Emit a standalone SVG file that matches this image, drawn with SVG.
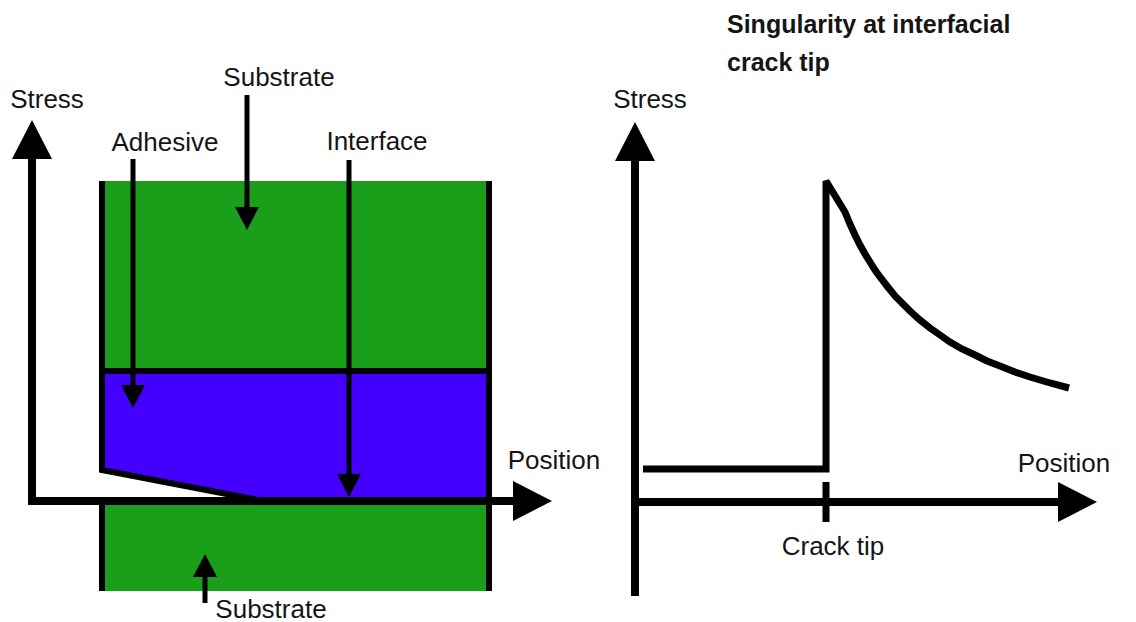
<svg xmlns="http://www.w3.org/2000/svg" width="1136" height="622" viewBox="0 0 1136 622">
<style>
text{font-family:"Liberation Sans",Arial,sans-serif;font-size:26px;fill:#151515}
.t{text-anchor:middle}
.title{font-weight:bold;font-size:25px}
.bl{stroke:#000;fill:none;stroke-width:6}
.ax{stroke:#000;fill:none;stroke-width:8}
.ptr{stroke:#000;fill:none;stroke-width:5}
</style>
<defs>
<marker id="big" markerUnits="userSpaceOnUse" markerWidth="40" markerHeight="40" refX="19" refY="20" orient="auto-start-reverse" viewBox="0 0 40 40">
<path d="M0,0 L39,20 L0,40 Z" fill="#000"/>
</marker>
<marker id="small" markerUnits="userSpaceOnUse" markerWidth="24" markerHeight="24" refX="13" refY="12" orient="auto" viewBox="0 0 24 24">
<path d="M0,0 L23,12 L0,24 Z" fill="#000"/>
</marker>
</defs>
<rect width="1136" height="622" fill="#fff"/>

<g id="specimen">
<rect x="105" y="181" width="381" height="190" fill="#1a9f1a"/>
<rect x="105" y="501" width="381" height="90" fill="#1a9f1a"/>
<path d="M105,374 H486 V499 H257 L105,470 Z" fill="#4400fe"/>
<path class="bl" d="M102,371 H489"/>
<path class="bl" d="M102,181 V470 L258,500" stroke-linejoin="miter"/>
<path class="bl" d="M102,501 V591"/>
<path class="bl" d="M489,181 V591"/>
</g>

<g id="left-axes">
<path class="ax" d="M32,140 V501 H532" marker-start="url(#big)" marker-end="url(#big)"/>
</g>

<g id="right-axes">
<path class="ax" d="M635,142 V596" marker-start="url(#big)"/>
<path class="ax" d="M635,502 H1077" marker-end="url(#big)"/>
<path d="M826,482 V522" stroke="#000" stroke-width="7"/>
</g>

<g id="stress-curve">
<path d="M643,469 H826 V181 L845,212 L850,224 L855,235 L860,245 L865,254 L870,262 L875,270 L880,277 L887,286 L895,296 L902,303 L910,311 L920,320 L930,328 L940,335 L950,342 L962,349 L975,355 L987,361 L1000,366 L1015,372 L1030,377 L1050,383 L1069,388" stroke="#000" stroke-width="7" fill="none" stroke-linejoin="miter" stroke-miterlimit="2"/>
</g>

<g id="connectors">
<path class="ptr" d="M247,95 V220" marker-end="url(#small)"/>
<path class="ptr" d="M133,159 V398" marker-end="url(#small)"/>
<path class="ptr" d="M349,160 V487" marker-end="url(#small)"/>
<path class="ptr" d="M205,603 V564" marker-end="url(#small)"/>
</g>

<g id="labels">
<text class="t" x="47" y="108">Stress</text>
<text class="t" x="279" y="86">Substrate</text>
<text class="t" x="165" y="151">Adhesive</text>
<text class="t" x="377" y="150">Interface</text>
<text class="t" x="554" y="469">Position</text>
<text class="t" x="271" y="618">Substrate</text>
<text class="t" x="650" y="108">Stress</text>
<text class="t" x="1064" y="472">Position</text>
<text class="t" x="833" y="555">Crack tip</text>
<text class="title" x="727" y="33">Singularity at interfacial</text>
<text class="title" x="727" y="71">crack tip</text>
</g>
</svg>
